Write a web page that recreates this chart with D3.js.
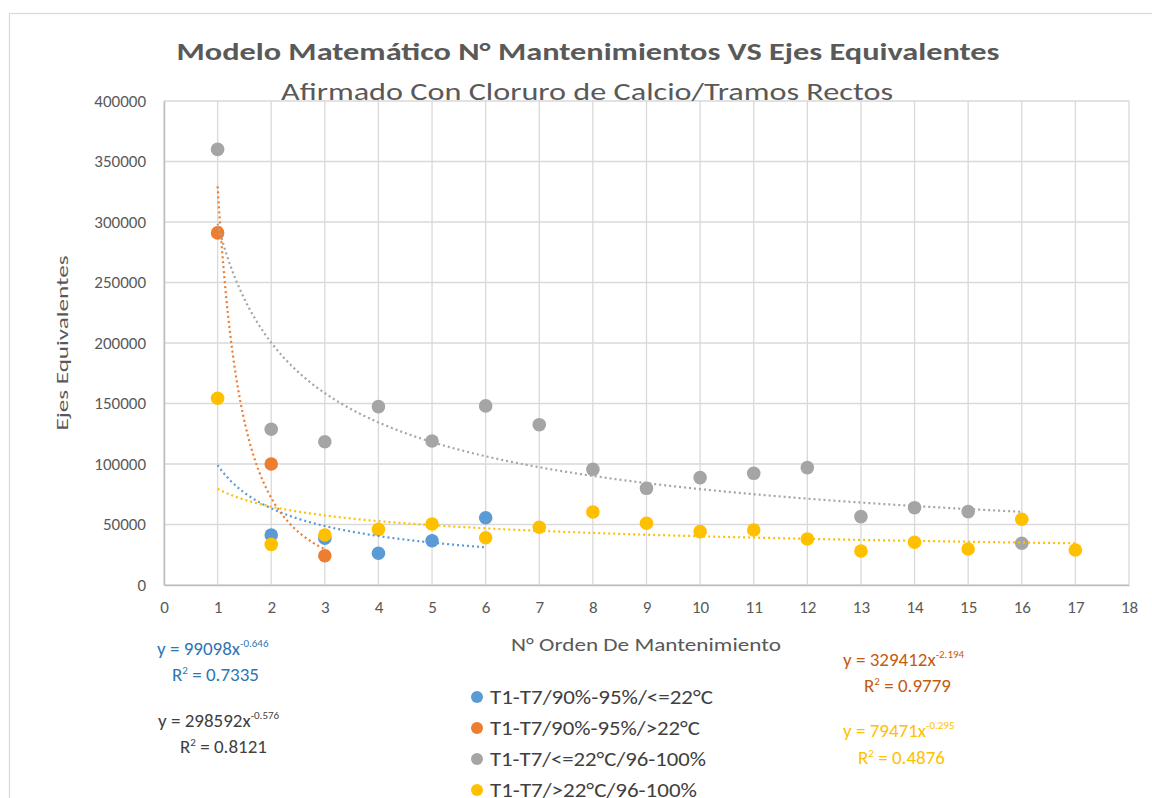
<!DOCTYPE html>
<html>
<head>
<meta charset="utf-8">
<script src="https://cdn.jsdelivr.net/npm/d3@7"></script>
<style>
  body { margin: 0; background: #fff; }
  svg { display: block; font-family: Carlito, Calibri, "Liberation Sans", sans-serif; }
</style>
</head>
<body>
<div id="chart"></div>
<script>
// series data
var seriesNames = ['T1-T7/90%-95%/<=22°C', 'T1-T7/90%-95%/>22°C', 'T1-T7/<=22°C/96-100%', 'T1-T7/>22°C/96-100%'];
var seriesColors = ['#5B9BD5', '#ED7D31', '#A5A5A5', '#FFC000'];
var blueX = [2, 3, 4, 5, 6];
var blueY = [41300, 38600, 26200, 36600, 55600];
var orangeX = [1, 2, 3];
var orangeY = [291000, 100000, 24200];
var grayX = [1, 2, 3, 4, 5, 6, 7, 8, 9, 10, 11, 12, 13, 14, 15, 16];
var grayY = [360000, 128700, 118400, 147400, 119000, 148000, 132500, 95600, 79900, 88700, 92300, 97000, 56500, 63900, 60600, 34500];
var yellowX = [1, 2, 3, 4, 5, 6, 7, 8, 9, 10, 11, 12, 13, 14, 15, 16, 17];
var yellowY = [154300, 33600, 41300, 46000, 50400, 39100, 47700, 60300, 51000, 44100, 45500, 38000, 28100, 35300, 29800, 54300, 28900];

// power trendlines y = a * x^b shown on the chart
var trendA = [99098, 329412, 298592, 79471];
var trendB = [-0.646, -2.194, -0.576, -0.295];
var trendR2 = ['0.7335', '0.9779', '0.8121', '0.4876'];
var trendRange = [[1, 6], [1, 3], [1, 16], [1, 17]];

var xTicks = d3.range(0, 19);
var yTicks = d3.range(0, 400001, 50000);

var W = 1152, H = 798;
var svg = d3.select('#chart').append('svg').attr('width', W).attr('height', H);

// chart frame
svg.append('rect')
  .attr('x', 9.5).attr('y', 13.5)
  .attr('width', W + 20).attr('height', H + 20)
  .attr('fill', '#fff').attr('stroke', '#d9d9d9').attr('stroke-width', 1.2);

var x = d3.scaleLinear().domain([0, 18]).range([164, 1129]);
var y = d3.scaleLinear().domain([0, 400000]).range([585, 101]);

// gridlines
var grid = svg.append('g').attr('stroke', '#d9d9d9').attr('stroke-width', 1.3);
grid.selectAll('line.h').data(yTicks).enter().append('line')
  .attr('x1', x(0)).attr('x2', x(18))
  .attr('y1', function(d) { return y(d); }).attr('y2', function(d) { return y(d); });
grid.selectAll('line.v').data(xTicks).enter().append('line')
  .attr('y1', y(0)).attr('y2', y(400000))
  .attr('x1', function(d) { return x(d); }).attr('x2', function(d) { return x(d); });

// axes
var yAxis = svg.append('g').attr('transform', 'translate(' + x(0) + ',0)')
  .call(d3.axisLeft(y).tickValues(yTicks).tickSize(0).tickPadding(18).tickFormat(d3.format('d')));
var xAxis = svg.append('g').attr('transform', 'translate(0,' + y(0) + ')')
  .call(d3.axisBottom(x).tickValues(xTicks).tickSize(0).tickPadding(16).tickFormat(d3.format('d')));
[xAxis, yAxis].forEach(function(ax) {
  ax.select('.domain').attr('stroke', '#bfbfbf').attr('stroke-width', 1.5);
  ax.selectAll('text').attr('fill', '#595959').style('font-size', '17px')
    .style('font-family', 'Carlito, Calibri, "Liberation Sans", sans-serif');
});

// markers
var seriesX = [blueX, orangeX, grayX, yellowX];
var seriesY = [blueY, orangeY, grayY, yellowY];
seriesX.forEach(function(xs, i) {
  svg.append('g').selectAll('circle').data(xs).enter().append('circle')
    .attr('cx', function(d) { return x(d); })
    .attr('cy', function(d, j) { return y(seriesY[i][j]); })
    .attr('r', 6.8)
    .attr('fill', seriesColors[i]);
});

// dotted trendlines
var line = d3.line().x(function(d) { return x(d[0]); }).y(function(d) { return y(d[1]); });
trendA.forEach(function(a, i) {
  var pts = d3.range(trendRange[i][0], trendRange[i][1] + 0.001, 0.02).map(function(t) {
    return [t, a * Math.pow(t, trendB[i])];
  });
  svg.append('path').datum(pts)
    .attr('d', line)
    .attr('fill', 'none')
    .attr('stroke', seriesColors[i])
    .attr('stroke-width', 2.2)
    .attr('stroke-dasharray', '2,3');
});

// titles
svg.append('text').attr('x', 588).attr('y', 60).attr('text-anchor', 'middle')
  .attr('fill', '#595959').style('font-size', '25px').style('font-weight', 'bold')
  .attr('textLength', 823).attr('lengthAdjust', 'spacingAndGlyphs')
  .text('Modelo Matemático N° Mantenimientos VS Ejes Equivalentes');
svg.append('text').attr('x', 587).attr('y', 100).attr('text-anchor', 'middle')
  .attr('fill', '#595959').style('font-size', '25px')
  .attr('textLength', 612).attr('lengthAdjust', 'spacingAndGlyphs')
  .text('Afirmado Con Cloruro de Calcio/Tramos Rectos');

svg.append('text').attr('x', 646).attr('y', 651).attr('text-anchor', 'middle')
  .attr('fill', '#595959').style('font-size', '19px')
  .attr('textLength', 270).attr('lengthAdjust', 'spacingAndGlyphs')
  .text('N° Orden De Mantenimiento');
svg.append('text').attr('transform', 'translate(68,343) rotate(-90)').attr('text-anchor', 'middle')
  .attr('fill', '#595959').style('font-size', '17px')
  .attr('textLength', 175).attr('lengthAdjust', 'spacingAndGlyphs')
  .text('Ejes Equivalentes');

// trendline equations
var eqColors = ['#2E75B6', '#C55A11', '#404040', '#FFC000'];
var eqPos = [[157, 655, 172, 681], [843, 666, 864, 692], [158, 727, 180, 753], [843, 737, 858, 764]];
trendA.forEach(function(a, i) {
  var p = eqPos[i];
  var t = svg.append('text').attr('x', p[0]).attr('y', p[1]).attr('fill', eqColors[i]).style('font-size', '19px');
  t.append('tspan').text('y = ' + a + 'x');
  t.append('tspan').attr('dy', -8).style('font-size', '11px').text(String(trendB[i]));
  var r = svg.append('text').attr('x', p[2]).attr('y', p[3]).attr('fill', eqColors[i]).style('font-size', '19px');
  r.append('tspan').text('R');
  r.append('tspan').attr('dy', -7).style('font-size', '11px').text('2');
  r.append('tspan').attr('dy', 7).text(' = ' + trendR2[i]);
});

// legend
var legendLen = [223, 210, 216, 207];
var legend = svg.append('g').selectAll('g').data(seriesNames).enter().append('g')
  .attr('transform', function(d, i) { return 'translate(477,' + (697 + i * 31) + ')'; });
legend.append('circle').attr('r', 6).attr('fill', function(d, i) { return seriesColors[i]; });
legend.append('text').attr('x', 13).attr('y', 7).attr('fill', '#404040').style('font-size', '21px')
  .attr('textLength', function(d, i) { return legendLen[i]; }).attr('lengthAdjust', 'spacingAndGlyphs')
  .text(function(d) { return d; });
</script>
</body>
</html>
